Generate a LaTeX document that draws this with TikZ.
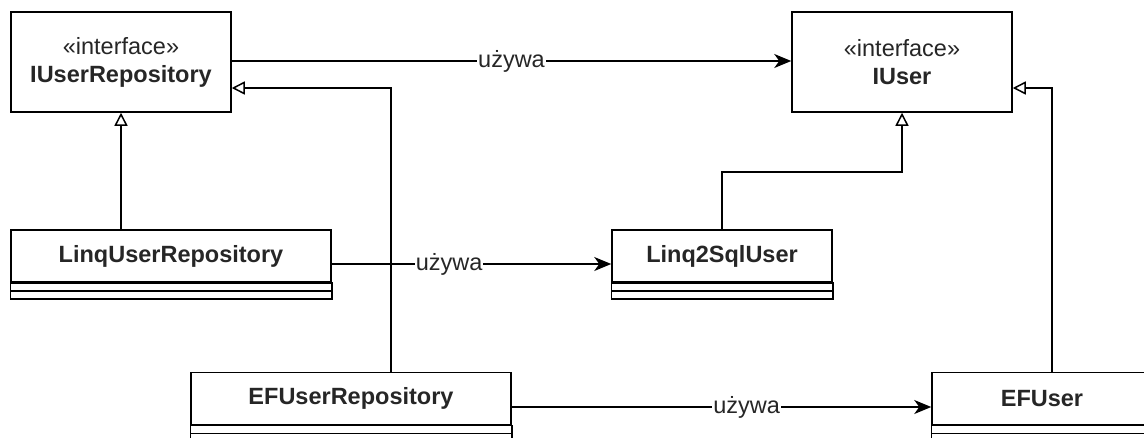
\documentclass[tikz,border=0pt]{standalone}
\usepackage{fontspec}
\setmainfont{Liberation Sans}
\usetikzlibrary{arrows.meta}
\begin{document}
\begin{tikzpicture}[x=1pt,y=-1pt,
  box/.style={draw, line width=1.5pt, fill=white, inner sep=0pt, text=black!85,
    font=\fontsize{23.5}{28}\selectfont, align=center},
  iface/.style={box, minimum width=220pt, minimum height=100pt},
  cls/.style={box, minimum height=52pt, font=\fontsize{23.5}{28}\selectfont\bfseries},
  sec/.style={draw, line width=1.5pt, fill=white},
  uses/.style={line width=1.5pt, -{Stealth[length=17pt,width=14pt,inset=5pt]}},
  inherit/.style={line width=1.5pt, -{Triangle[open,length=13pt,width=13pt,fill=white]}},
  lbl/.style={fill=white, inner sep=1pt, text=black!85, font=\fontsize{23.5}{28}\selectfont}]
\useasboundingbox (0,0) rectangle (1144,437);
\clip (0,0) rectangle (1144,437);

% interfaces
\node[iface] (iur) at (121,62) {\raisebox{-2pt}{«interface»}\\\raisebox{-2pt}{\textbf{IUserRepository}}};
\node[iface] (iu) at (902,62) {\raisebox{-2pt}{«interface»}\\\raisebox{-2pt}{\textbf{IUser}}};

% classes
\node[cls, minimum width=320pt] (lur) at (171,256) {LinqUserRepository};
\node[cls, minimum width=220pt] (l2s) at (722,256) {Linq2SqlUser};
\node[cls, minimum width=320pt] (efr) at (351,398.5) {EFUserRepository};
\node[cls, minimum width=220pt] (efu) at (1042,398.5) {EFUser};

% class sections
\foreach \n in {lur,l2s,efr,efu}{
  \draw[sec] (\n.south west) rectangle ([yshift=-8pt]\n.south east);
  \draw[sec] ([yshift=-8pt]\n.south west) rectangle ([yshift=-16pt]\n.south east);
}

% uses
\draw[uses] ([yshift=1pt]iur.east) -- ([yshift=1pt]iu.west)
  node[lbl, pos=0.5] {używa};
\draw[uses] ([yshift=-8pt]lur.east) -- ([yshift=-8pt]l2s.west)
  node[lbl, pos=0.42] {używa};
\draw[uses] ([yshift=-8.5pt]efr.east) -- ([yshift=-8.5pt]efu.west)
  node[lbl, pos=0.56] {używa};

% inheritance
\draw[inherit] (iur.south |- lur.north) -- (iur.south);
\coordinate (k1) at (812,172);
\draw[inherit] (l2s.north) |- (k1) -| (iu.south);
\draw[inherit] ([xshift=40pt]efr.north) |- ([yshift=-26pt]iur.east);
\draw[inherit] ([xshift=10pt]efu.north) |- ([yshift=-26pt]iu.east);
\end{tikzpicture}
\end{document}
